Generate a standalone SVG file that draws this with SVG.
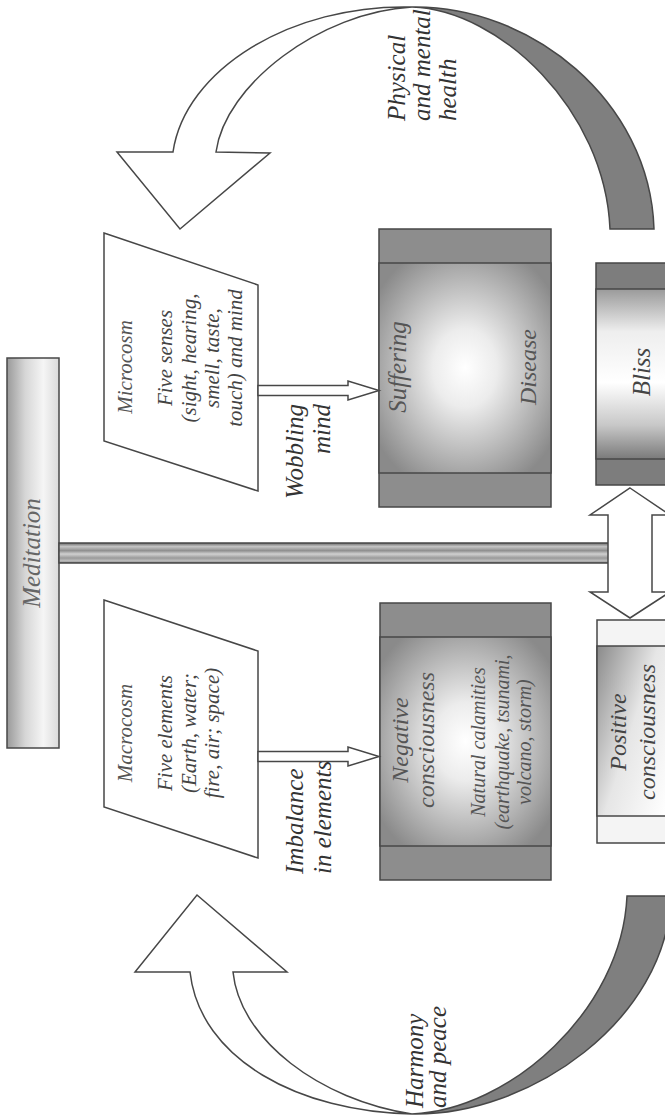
<svg xmlns="http://www.w3.org/2000/svg" width="665" height="1120" viewBox="0 0 665 1120">
<defs>
<style>
.ol{stroke:#474747;stroke-width:1.5}
.t{font-family:"Liberation Serif","Times New Roman",serif;font-style:italic}
.lbl{fill:#333;font-size:25px}
.band{fill:#8d8d8d}
.wht{fill:#ffffff}
</style>
<linearGradient id="gMed" x1="0" y1="0" x2="1" y2="0">
<stop offset="0" stop-color="#9a9a9a"/><stop offset="0.35" stop-color="#d6d6d6"/><stop offset="0.7" stop-color="#f5f5f5"/><stop offset="1" stop-color="#dadada"/>
</linearGradient>
<linearGradient id="gStem" x1="0" y1="0" x2="0" y2="1">
<stop offset="0" stop-color="#6a6a6a"/><stop offset="0.18" stop-color="#c4c4c4"/><stop offset="0.38" stop-color="#8f8f8f"/><stop offset="0.55" stop-color="#d0d0d0"/><stop offset="0.75" stop-color="#9a9a9a"/><stop offset="0.9" stop-color="#c0c0c0"/><stop offset="1" stop-color="#6a6a6a"/>
</linearGradient>
<radialGradient id="gPillow" cx="0.5" cy="0.5" r="0.62">
<stop offset="0" stop-color="#ffffff"/><stop offset="0.3" stop-color="#ececec"/><stop offset="0.7" stop-color="#b4b4b4"/><stop offset="1" stop-color="#8a8a8a"/>
</radialGradient>
<linearGradient id="gBliss" x1="0" y1="0" x2="0" y2="1">
<stop offset="0" stop-color="#9a9a9a"/><stop offset="0.25" stop-color="#eeeeee"/><stop offset="0.55" stop-color="#ffffff"/><stop offset="0.8" stop-color="#c8c8c8"/><stop offset="1" stop-color="#7a7a7a"/>
</linearGradient>
<linearGradient id="gPos" x1="0" y1="0" x2="1" y2="0.6">
<stop offset="0" stop-color="#8a8a8a"/><stop offset="0.5" stop-color="#e6e6e6"/><stop offset="1" stop-color="#ffffff"/>
</linearGradient>
</defs>
<rect width="665" height="1120" fill="#ffffff"/>

<g id="suffering">
<rect x="379" y="229" width="172" height="278" class="band ol"/>
<rect x="379" y="263" width="172" height="210" fill="url(#gPillow)" class="ol"/>
<text class="t" transform="translate(406,367) rotate(-90)" text-anchor="middle" font-size="25" fill="#555">Suffering</text>
<text class="t" transform="translate(536,367) rotate(-90)" text-anchor="middle" font-size="24" fill="#555">Disease</text>
</g>

<g id="negative">
<rect x="380" y="603" width="171" height="277" class="band ol"/>
<rect x="380" y="637" width="171" height="209" fill="url(#gPillow)" class="ol"/>
<text class="t" transform="translate(408,740) rotate(-90)" text-anchor="middle" font-size="24" fill="#555"><tspan x="0" y="0">Negative</tspan><tspan x="0" y="26">consciousness</tspan></text>
<text class="t" transform="translate(485,742) rotate(-90)" text-anchor="middle" font-size="20" fill="#555"><tspan x="0" y="0">Natural calamities</tspan><tspan x="0" y="24">(earthquake, tsunami,</tspan><tspan x="0" y="46">volcano, storm)</tspan></text>
</g>

<g id="bliss">
<rect x="596" y="263" width="90" height="222" fill="#7d7d7d" class="ol"/>
<rect x="596" y="289" width="90" height="170" fill="url(#gBliss)" class="ol"/>
<text class="t" transform="translate(650,372) rotate(-90)" text-anchor="middle" font-size="25" fill="#444">Bliss</text>
</g>

<g id="positive">
<rect x="597" y="620" width="90" height="223" fill="#f4f4f4" class="ol"/>
<rect x="597" y="646" width="90" height="170" fill="url(#gPos)" class="ol"/>
<text class="t" transform="translate(626,732) rotate(-90)" text-anchor="middle" font-size="24" fill="#444"><tspan x="0" y="0">Positive</tspan><tspan x="0" y="29">consciousness</tspan></text>
</g>

<g id="microcosm">
<polygon points="104,233 258,285 258,491 104,441" class="wht ol"/>
<text class="t" transform="translate(132,367) rotate(-90)" text-anchor="middle" font-size="21" fill="#555">Microcosm</text>
<text class="t" transform="translate(172,358) rotate(-90)" text-anchor="middle" font-size="21" fill="#444"><tspan x="0" y="0">Five senses</tspan><tspan x="0" y="24">(sight, hearing,</tspan><tspan x="0" y="47">smell, taste,</tspan><tspan x="0" y="70">touch) and mind</tspan></text>
</g>

<g id="macrocosm">
<polygon points="104,600 258,651 258,858 104,807" class="wht ol"/>
<text class="t" transform="translate(132,733) rotate(-90)" text-anchor="middle" font-size="21" fill="#555">Macrocosm</text>
<text class="t" transform="translate(172,733) rotate(-90)" text-anchor="middle" font-size="21" fill="#444"><tspan x="0" y="0">Five elements</tspan><tspan x="0" y="24">(Earth, water;</tspan><tspan x="0" y="47">fire, air; space)</tspan></text>
</g>

<g id="meditation">
<rect x="7" y="358" width="52" height="390" fill="url(#gMed)" class="ol"/>
<text class="t" transform="translate(40,553) rotate(-90)" text-anchor="middle" font-size="25" fill="#666">Meditation</text>
</g>

<g id="connectors">
<rect x="59" y="543" width="550" height="20" fill="url(#gStem)" class="ol"/>
<polygon points="630,488 670,515 652,515 652,592 670,592 630,618 590,592 608,592 608,515 590,515" class="wht ol"/>
<polygon points="258,385.5 348,385.5 348,381 379,390.5 348,400 348,395.5 258,395.5" class="wht ol"/>
<polygon points="258,751.5 348,751.5 348,747 379,756.5 348,766 348,761.5 258,761.5" class="wht ol"/>
<path d="M412,7 C530,5 650,100 654,229 L610,229 C605,110 500,10 412,7 Z" fill="#7f7f7f" class="ol"/>
<path d="M412,7 C290,4 185,70 173,152 L117,152 L180,229 L270,153 L216,152 C225,85 320,12 412,7 Z" class="wht ol"/>
<path d="M412,1114 C530,1116 667,1020 671,896 L627,896 C622,1010 510,1110 412,1114 Z" fill="#7f7f7f" class="ol"/>
<path d="M412,1114 C300,1112 200,1060 190,972 L135,972 L197,895 L287,972 L233,972 C240,1040 320,1100 412,1114 Z" class="wht ol"/>
<text class="t lbl" transform="translate(405,121) rotate(-90)" text-anchor="start"><tspan x="0" y="0">Physical</tspan><tspan x="0" y="25">and mental</tspan><tspan x="0" y="51">health</tspan></text>
<text class="t lbl" transform="translate(423,1108) rotate(-90)" text-anchor="start"><tspan x="0" y="0">Harmony</tspan><tspan x="0" y="23">and peace</tspan></text>
<text class="t lbl" transform="translate(303,404) rotate(-90)" text-anchor="end"><tspan x="0" y="0">Wobbling</tspan><tspan x="0" y="27">mind</tspan></text>
<text class="t lbl" transform="translate(303,874) rotate(-90)" text-anchor="start"><tspan x="0" y="0">Imbalance</tspan><tspan x="0" y="28">in elements</tspan></text>
</g>
</svg>
